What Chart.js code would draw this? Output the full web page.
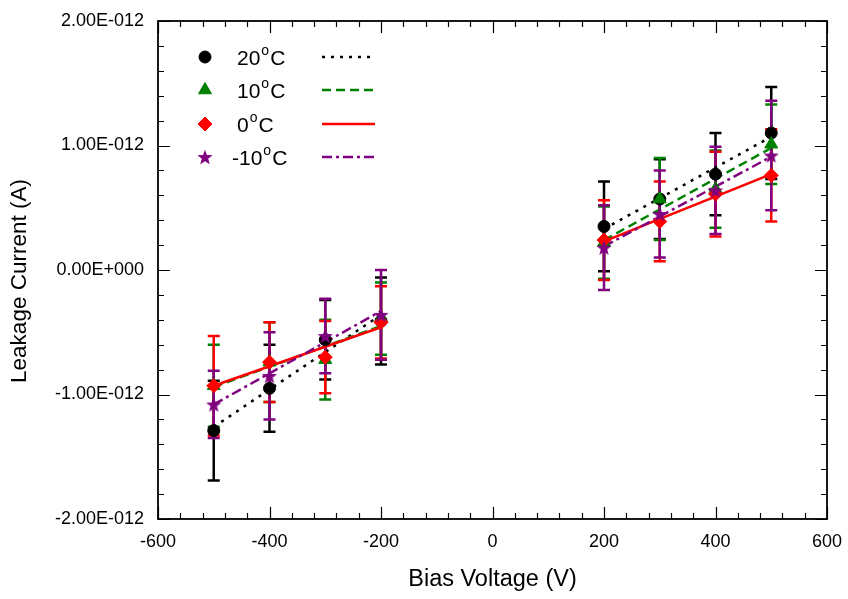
<!DOCTYPE html>
<html>
<head>
<meta charset="utf-8">
<script src="https://cdn.jsdelivr.net/npm/chart.js@4.4.1/dist/chart.umd.min.js"></script>
<style>
  html, body { margin: 0; padding: 0; background: #fff; }
  #wrap { width: 848px; height: 599px; }
</style>
</head>
<body>
<div id="wrap"><canvas id="myChart" width="848" height="599"></canvas></div>
<script>
// values in units of 1E-012 A
const voltages = [-500, -400, -300, -200, 200, 300, 400, 500];

const cur20 = [-1.29, -0.95, -0.56, -0.41, 0.35, 0.57, 0.77, 1.10];
const err20 = [0.40, 0.35, 0.32, 0.35, 0.36, 0.32, 0.33, 0.37];
const cur10 = [-0.93, -0.74, -0.72, -0.39, 0.22, 0.57, 0.65, 1.01];
const err10 = [0.33, 0.32, 0.32, 0.29, 0.29, 0.33, 0.31, 0.32];
const cur0 = [-0.93, -0.74, -0.70, -0.42, 0.24, 0.39, 0.61, 0.76];
const err0 = [0.40, 0.32, 0.29, 0.29, 0.32, 0.32, 0.34, 0.37];
const curM10 = [-1.08, -0.85, -0.53, -0.36, 0.18, 0.45, 0.64, 0.92];
const errM10 = [0.27, 0.35, 0.30, 0.36, 0.34, 0.35, 0.35, 0.44];

// fitted lines, read at both ends of each branch
const fitX = [-500, -200, 200, 500];
const fit20 = [-1.26, -0.36, 0.33, 1.07];
const fit10 = [-0.94, -0.45, 0.24, 0.98];
const fit0 = [-0.93, -0.46, 0.23, 0.77];
const fitM10 = [-1.08, -0.33, 0.19, 0.91];

const seriesNames = ['20', '10', '0', '-10'];
const xTicks = [-600, -400, -200, 0, 200, 400, 600];
const yTickValues = [-2, -1, 0, 1, 2];
const yTickLabels = ['-2.00E-012', '-1.00E-012', '0.00E+000', '1.00E-012', '2.00E-012'];
const xTitle = 'Bias Voltage (V)';
const yTitle = 'Leakage Current (A)';

const FONT = "'Liberation Sans', Arial, sans-serif";

// filled five point star for the -10 C series
function makeStar(color, size) {
    const c = document.createElement('canvas');
    c.width = size; c.height = size;
    const g = c.getContext('2d');
    const cx = size / 2, cy = size / 2 + size * 0.05;
    const R = size / 2, r = R * 0.42;
    g.beginPath();
    for (let i = 0; i < 10; i++) {
        const a = -Math.PI / 2 + i * Math.PI / 5;
        const rr = i % 2 === 0 ? R : r;
        g.lineTo(cx + rr * Math.cos(a), cy + rr * Math.sin(a));
    }
    g.closePath();
    g.fillStyle = color;
    g.fill();
    return c;
}
const starImg = makeStar('#800080', 16);

const series = [
    { name: seriesNames[0], y: cur20, err: err20, fit: fit20, color: '#000000', style: 'circle', radius: 6, dash: [3, 6] },
    { name: seriesNames[1], y: cur10, err: err10, fit: fit10, color: '#008000', style: 'triangle', radius: 7.5, dash: [9, 5] },
    { name: seriesNames[2], y: cur0, err: err0, fit: fit0, color: '#ff0000', style: 'rectRot', radius: 7, dash: [] },
    { name: seriesNames[3], y: curM10, err: errM10, fit: fitM10, color: '#800080', style: starImg, radius: 8, dash: [10, 4, 3, 4] }
];

const datasets = [];
series.forEach((s, i) => {
    const fitData = [
        { x: fitX[0], y: s.fit[0] }, { x: fitX[1], y: s.fit[1] },
        { x: 0, y: null },
        { x: fitX[2], y: s.fit[2] }, { x: fitX[3], y: s.fit[3] }
    ];
    datasets.push({
        label: s.name + ' fit',
        data: fitData,
        showLine: true,
        spanGaps: false,
        borderColor: s.color,
        borderWidth: 2.5,
        borderDash: s.dash,
        pointRadius: 0,
        order: 20 - i
    });
    datasets.push({
        label: s.name,
        data: voltages.map((v, k) => ({ x: v, y: s.y[k] })),
        showLine: false,
        pointStyle: s.style,
        pointRadius: s.radius,
        backgroundColor: s.color,
        borderColor: s.color,
        borderWidth: 1,
        order: 10 - i
    });
});

const errorBars = {
    id: 'errorBars',
    beforeDatasetsDraw(chart) {
        const ctx = chart.ctx;
        const xs = chart.scales.x, ys = chart.scales.y;
        ctx.save();
        series.forEach(s => {
            ctx.strokeStyle = s.color;
            ctx.lineWidth = 2.5;
            voltages.forEach((v, k) => {
                const px = xs.getPixelForValue(v);
                const top = ys.getPixelForValue(s.y[k] + s.err[k]);
                const bot = ys.getPixelForValue(s.y[k] - s.err[k]);
                ctx.beginPath();
                ctx.moveTo(px, top); ctx.lineTo(px, bot);
                ctx.moveTo(px - 6, top); ctx.lineTo(px + 6, top);
                ctx.moveTo(px - 6, bot); ctx.lineTo(px + 6, bot);
                ctx.stroke();
            });
        });
        ctx.restore();
    }
};

// box, inward ticks on all four sides, and the rotated y title
const frame = {
    id: 'frame',
    afterDatasetsDraw(chart) {
        const ctx = chart.ctx;
        const a = chart.chartArea;
        const xs = chart.scales.x, ys = chart.scales.y;
        ctx.save();
        ctx.strokeStyle = '#000';
        ctx.lineWidth = 1.8;
        ctx.strokeRect(a.left, a.top, a.right - a.left, a.bottom - a.top);
        ctx.lineWidth = 1.2;
        ctx.beginPath();
        for (let v = -600; v <= 600; v += 40) {
            const len = v % 200 === 0 ? 12 : 6;
            const px = Math.round(xs.getPixelForValue(v)) + 0.5;
            ctx.moveTo(px, a.bottom); ctx.lineTo(px, a.bottom - len);
            ctx.moveTo(px, a.top); ctx.lineTo(px, a.top + len);
        }
        for (let i = -10; i <= 10; i++) {
            const v = i / 5;
            const len = i % 5 === 0 ? 12 : 6;
            const py = Math.round(ys.getPixelForValue(v)) + 0.5;
            ctx.moveTo(a.left, py); ctx.lineTo(a.left + len, py);
            ctx.moveTo(a.right, py); ctx.lineTo(a.right - len, py);
        }
        ctx.stroke();

        ctx.translate(20, 281);
        ctx.rotate(-Math.PI / 2);
        ctx.fillStyle = '#000';
        ctx.font = '22.5px ' + FONT;
        ctx.textAlign = 'center';
        ctx.textBaseline = 'middle';
        ctx.fillText(yTitle, 0, 0);
        ctx.restore();
    }
};

const legendBox = {
    id: 'legendBox',
    afterDraw(chart) {
        const ctx = chart.ctx;
        const rows = [57, 90, 124, 157];
        ctx.save();
        series.forEach((s, i) => {
            const y = rows[i];
            ctx.fillStyle = s.color;
            ctx.strokeStyle = s.color;
            ctx.lineWidth = 1;
            Chart.helpers.drawPoint(ctx, { pointStyle: s.style, radius: s.radius, rotation: 0, borderWidth: 1 }, 205, y);
            ctx.fillStyle = '#000';
            ctx.textBaseline = 'alphabetic';
            ctx.font = '21px ' + FONT;
            let x = s.name === '-10' ? 232 : 237;
            const base = y + 8;
            ctx.fillText(s.name, x, base);
            x += ctx.measureText(s.name).width + 1;
            ctx.font = '14px ' + FONT;
            ctx.fillText('o', x, base - 10);
            x += ctx.measureText('o').width + 1;
            ctx.font = '21px ' + FONT;
            ctx.fillText('C', x, base);
            ctx.strokeStyle = s.color;
            ctx.lineWidth = 2.5;
            ctx.setLineDash(s.dash);
            ctx.beginPath();
            ctx.moveTo(322, y); ctx.lineTo(375, y);
            ctx.stroke();
            ctx.setLineDash([]);
        });
        ctx.restore();
    }
};

var ctx = document.getElementById('myChart').getContext('2d');
var myChart = new Chart(ctx, {
    type: 'scatter',
    data: { datasets: datasets },
    plugins: [errorBars, frame, legendBox],
    options: {
        responsive: false,
        animation: false,
        layout: { padding: { top: 21, right: 21, left: 0, bottom: 0 } },
        plugins: { legend: { display: false }, tooltip: { enabled: false } },
        scales: {
            x: {
                type: 'linear',
                min: -600, max: 600,
                afterBuildTicks: (scale) => { scale.ticks = xTicks.map(v => ({ value: v })); },
                afterFit: (scale) => { scale.height = 80; scale.paddingLeft = 0; scale.paddingRight = 0; },
                grid: { display: false, drawTicks: false },
                border: { display: false },
                ticks: { color: '#000', padding: 12, font: { family: FONT, size: 18 }, maxRotation: 0 },
                title: { display: true, text: xTitle, color: '#000', font: { family: FONT, size: 23.5 }, padding: { top: 0, bottom: 5 } }
            },
            y: {
                type: 'linear',
                min: -2, max: 2,
                afterBuildTicks: (scale) => { scale.ticks = yTickValues.map(v => ({ value: v })); },
                afterFit: (scale) => { scale.width = 158; scale.paddingTop = 0; scale.paddingBottom = 0; },
                grid: { display: false, drawTicks: false },
                border: { display: false },
                ticks: {
                    color: '#000', padding: 14, font: { family: FONT, size: 18 },
                    callback: (v) => yTickLabels[yTickValues.indexOf(Math.round(v))]
                },
                title: { display: false }
            }
        }
    }
});
</script>
</body>
</html>
